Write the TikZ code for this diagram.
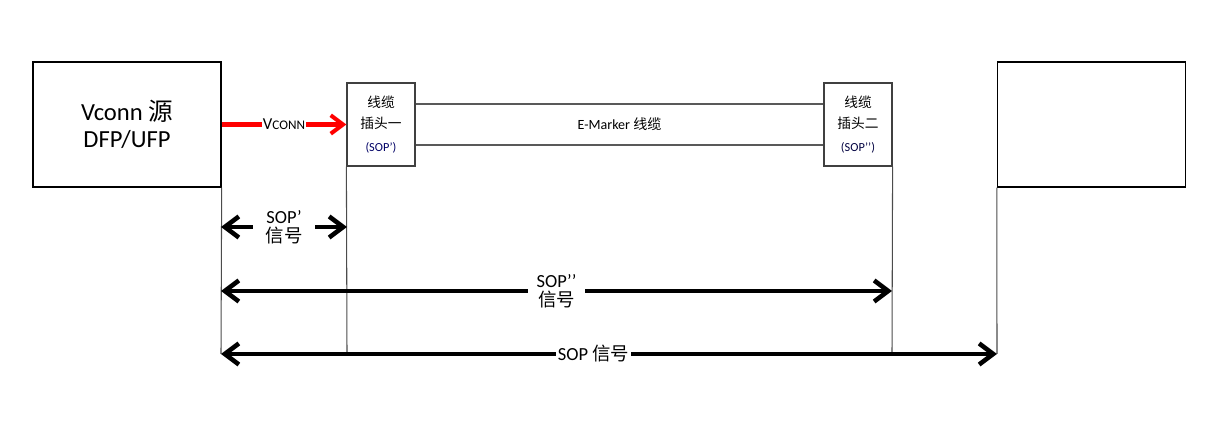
\documentclass[tikz,border=0pt]{standalone}
\usepackage{fontspec}
\setmainfont{Carlito}
\newfontfamily\cjk{Noto Sans CJK SC}
\usetikzlibrary{arrows.meta,positioning,calc}

\begin{document}
\begin{tikzpicture}[x=0.02cm, y=-0.02cm]
  \tikzstyle{host}=[rectangle, draw=black, line width=0.8pt, minimum width=3.76cm, minimum height=2.5cm, align=center, inner sep=0pt]
  \tikzstyle{plug}=[rectangle, draw=black!75, line width=0.7pt, fill=white, minimum width=1.36cm, minimum height=1.66cm, align=center, inner sep=0pt]
  \tikzstyle{wire}=[draw=black!65, line width=0.8pt]
  \tikzstyle{rail}=[draw=black!70, line width=0.6pt]
  \tikzstyle{signal}=[line width=2.6pt, {Straight Barb[length=8pt,width=12pt]}-{Straight Barb[length=8pt,width=12pt]}]
  \tikzstyle{power}=[draw=red, line width=2.3pt, -{Straight Barb[length=7pt,width=10.5pt]}]
  \tikzstyle{siglabel}=[fill=white, inner xsep=7pt, inner ysep=1pt, align=center, font=\fontsize{10.5}{11}\selectfont]

  \useasboundingbox (0,0) rectangle (1215,431);

  % Equipos y conectores
  \node[host, font=\fontsize{14}{15}\selectfont] (src) at (127,124.5) {Vconn {\cjk 源}\\DFP/UFP};
  \node[plug] (plugA) at (381,124.5) {{\cjk\fontsize{7.8}{9}\selectfont 线缆}\\{\cjk\fontsize{7.8}{9}\selectfont 插头一}\\[1pt]{\fontsize{7}{8}\selectfont\color{blue!40!black}(SOP’)}};
  \node[plug] (plugB) at (858,124.5) {{\cjk\fontsize{7.8}{9}\selectfont 线缆}\\{\cjk\fontsize{7.8}{9}\selectfont 插头二}\\[1pt]{\fontsize{7}{8}\selectfont\color{blue!25!black}(SOP’’)}};
  \node[host] (sink) at (1091.5,124.5) {};

  % Cable
  \draw[wire] ([yshift=0.41cm]plugA.east) -- ([yshift=0.41cm]plugB.west);
  \draw[wire] ([yshift=-0.41cm]plugA.east) -- ([yshift=-0.41cm]plugB.west);
  \node[font=\fontsize{8}{9}\selectfont] (cable) at ($(plugA.east)!0.5!(plugB.west)$) {E-Marker {\cjk 线缆}};

  % Lineas verticales
  \coordinate (footA) at (221,354);
  \coordinate (footB) at (347,354);
  \coordinate (footC) at (892,354);
  \coordinate (footD) at (997,354);
  \draw[rail] (src.south east) -- (footA);
  \draw[rail] (plugA.south west) -- (footB);
  \draw[rail] (plugB.south east) -- (footC);
  \draw[rail] (sink.south west) -- (footD);

  % Vconn
  \draw[power] (src.east) -- node[fill=white, inner sep=0.5pt, font=\fontsize{9.5}{10}\selectfont] (vconn) {V{\fontsize{7.5}{8}\selectfont CONN}} (plugA.west);

  % Senales
  \coordinate (sopA1) at (221,227);
  \coordinate (sopA2) at (347,227);
  \coordinate (sopB1) at (221,291);
  \coordinate (sopB2) at (892,291);
  \draw[signal] (sopA1) -- node[siglabel] (lblA) {SOP’\\{\cjk 信号}} (sopA2);
  \draw[signal] (sopB1) -- node[siglabel, inner xsep=5pt] (lblB) {SOP’’\\{\cjk 信号}} (sopB2);
  \draw[signal] (footA) -- node[siglabel, pos=0.48, inner xsep=1pt] (lblC) {SOP {\cjk 信号}} (footD);
\end{tikzpicture}
\end{document}
